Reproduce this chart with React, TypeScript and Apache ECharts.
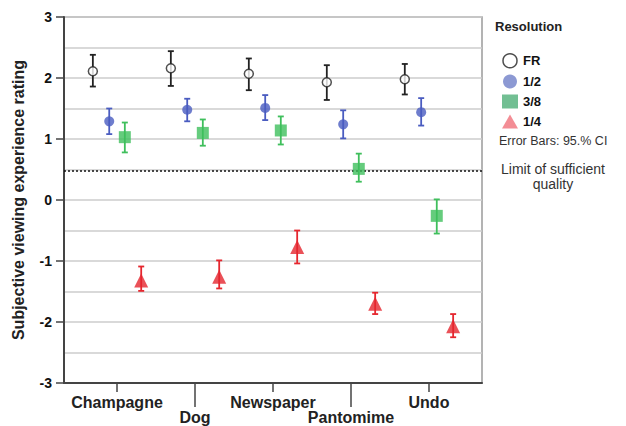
import React, { useEffect, useRef } from "react";
import * as echarts from "echarts";

const categories = ["Champagne", "Dog", "Newspaper", "Pantomime", "Undo"];
const resolutions = ["FR", "1/2", "3/8", "1/4"];
const offsets = [-0.31, -0.1, 0.1, 0.31];

const frMean = [2.11, 2.16, 2.07, 1.93, 1.98];
const frLow = [1.86, 1.87, 1.8, 1.64, 1.73];
const frHigh = [2.38, 2.44, 2.32, 2.21, 2.23];

const halfMean = [1.29, 1.48, 1.51, 1.24, 1.44];
const halfLow = [1.08, 1.29, 1.31, 1.01, 1.22];
const halfHigh = [1.5, 1.66, 1.72, 1.47, 1.67];

const threeEighthMean = [1.03, 1.1, 1.14, 0.51, -0.26];
const threeEighthLow = [0.78, 0.89, 0.91, 0.3, -0.55];
const threeEighthHigh = [1.27, 1.32, 1.37, 0.76, 0.01];

const quarterMean = [-1.32, -1.26, -0.77, -1.7, -2.07];
const quarterLow = [-1.49, -1.45, -1.04, -1.87, -2.25];
const quarterHigh = [-1.09, -0.99, -0.5, -1.52, -1.87];

const limitValue = 0.48;
const yTicks = [-3, -2, -1, 0, 1, 2, 3];

const means = [frMean, halfMean, threeEighthMean, quarterMean];
const lows = [frLow, halfLow, threeEighthLow, quarterLow];
const highs = [frHigh, halfHigh, threeEighthHigh, quarterHigh];

const markerColors = ["#222222", "#4a5cc0", "#3fbf5c", "#e5262e"];
const legendColors = ["#ffffff", "#6f80c8", "#4faf78", "#f0707a"];
const symbols = ["circle", "circle", "rect", "triangle"];
const symbolSizes = [9, 10, 12, 14];

const FONT = "Liberation Sans, Arial, sans-serif";

export default function App() {
  const ref = useRef<HTMLDivElement>(null);
  useEffect(() => {
    if (!ref.current) return;
    const chart = echarts.init(ref.current, null, { renderer: "svg" });

    const scatterSeries = resolutions.map((name, r) => ({
      name,
      type: "scatter",
      xAxisIndex: 0,
      yAxisIndex: 0,
      symbol: symbols[r],
      symbolSize: symbolSizes[r],
      z: 5,
      itemStyle:
        r === 0
          ? { color: "#ffffff", borderColor: markerColors[0], borderWidth: 1.5 }
          : { color: markerColors[r] },
      data: categories.map((_, i) => [i + offsets[r], means[r][i]]),
      ...(r === 0
        ? {
            markLine: {
              silent: true,
              symbol: ["none", "none"],
              label: { show: false },
              lineStyle: { type: [2, 2], color: "#111", width: 1.6 },
              data: [{ yAxis: limitValue }],
            },
          }
        : {}),
    }));

    const errorSeries = resolutions.map((name, r) => ({
      name: name + " CI",
      type: "custom",
      xAxisIndex: 0,
      yAxisIndex: 0,
      z: 4,
      encode: { x: 0, y: [1, 2] },
      data: categories.map((_, i) => [i + offsets[r], lows[r][i], highs[r][i]]),
      renderItem: (params: any, api: any) => {
        const x = api.value(0);
        const lo = api.coord([x, api.value(1)]);
        const hi = api.coord([x, api.value(2)]);
        const w = 3;
        const style = { stroke: markerColors[r], lineWidth: 1.8 };
        return {
          type: "group",
          children: [
            { type: "line", shape: { x1: lo[0], y1: lo[1], x2: hi[0], y2: hi[1] }, style },
            { type: "line", shape: { x1: lo[0] - w, y1: lo[1], x2: lo[0] + w, y2: lo[1] }, style },
            { type: "line", shape: { x1: hi[0] - w, y1: hi[1], x2: hi[0] + w, y2: hi[1] }, style },
          ],
        };
      },
    }));

    const xBase = {
      type: "value",
      min: -0.68,
      max: 4.68,
      position: "bottom",
      splitLine: { show: false },
    };

    const option: any = {
      animation: false,
      grid: {
        left: 64,
        top: 17,
        width: 418,
        height: 366,
        show: true,
        borderColor: "#9a9a9a",
        borderWidth: 1.5,
        backgroundColor: "transparent",
      },
      legend: {
        orient: "vertical",
        left: 497,
        top: 48,
        itemWidth: 16,
        itemHeight: 14,
        itemGap: 6,
        textStyle: { fontFamily: FONT, fontWeight: "bold", fontSize: 13, color: "#111" },
        data: resolutions.map((name, r) => ({
          name,
          icon: symbols[r],
          itemStyle:
            r === 0
              ? { color: "#ffffff", borderColor: "#222", borderWidth: 1.5 }
              : { color: legendColors[r], borderWidth: 0 },
        })),
      },
      xAxis: [
        {
          ...xBase,
          axisLine: { show: true, onZero: false, lineStyle: { color: "#444", width: 2 } },
          axisTick: { show: true, customValues: [0, 2, 4], length: 9, lineStyle: { color: "#444", width: 1.5 } },
          axisLabel: {
            customValues: [0, 2, 4],
            formatter: (v: number) => categories[Math.round(v)],
            margin: 11,
            fontFamily: FONT,
            fontWeight: "bold",
            fontSize: 16,
            color: "#222",
          },
        },
        {
          ...xBase,
          axisLine: { show: false, onZero: false },
          axisTick: { show: true, customValues: [1, 3], length: 24, lineStyle: { color: "#444", width: 1.5 } },
          axisLabel: {
            customValues: [1, 3],
            formatter: (v: number) => categories[Math.round(v)],
            margin: 26,
            fontFamily: FONT,
            fontWeight: "bold",
            fontSize: 16,
            color: "#222",
          },
        },
      ],
      yAxis: {
        type: "value",
        min: yTicks[0],
        max: yTicks[yTicks.length - 1],
        interval: 1,
        name: "Subjective viewing experience rating",
        nameLocation: "middle",
        nameGap: 38,
        nameTextStyle: { fontFamily: FONT, fontWeight: "bold", fontSize: 16, color: "#222" },
        axisLine: { show: true, onZero: false, lineStyle: { color: "#444", width: 2 } },
        axisTick: { show: true, length: 8, lineStyle: { color: "#444", width: 1.5 } },
        axisLabel: { margin: 12, fontFamily: FONT, fontWeight: "bold", fontSize: 14, color: "#111" },
        splitLine: { show: true, lineStyle: { color: "#cccccc", width: 1.5 } },
        minorTick: { show: false, splitNumber: 2 },
        minorSplitLine: { show: true, lineStyle: { color: "#cccccc", width: 1.5 } },
      },
      graphic: [
        {
          type: "text",
          left: 495,
          top: 20,
          style: { text: "Resolution", fontFamily: FONT, fontWeight: "bold", fontSize: 13, fill: "#222" },
        },
        {
          type: "text",
          left: 499,
          top: 134,
          style: { text: "Error Bars: 95.% CI", fontFamily: FONT, fontSize: 12.5, fill: "#333" },
        },
        {
          type: "text",
          x: 553,
          y: 161,
          style: {
            text: "Limit of sufficient\nquality",
            fontFamily: FONT,
            fontSize: 14,
            lineHeight: 15,
            align: "center",
            fill: "#333",
          },
        },
      ],
      series: [...errorSeries, ...scatterSeries],
    };

    chart.setOption(option);
    return () => chart.dispose();
  }, []);

  return (
    <div
      ref={ref}
      style={{ position: "fixed", left: 0, top: 0, width: 626, height: 426, background: "#fff" }}
    />
  );
}
